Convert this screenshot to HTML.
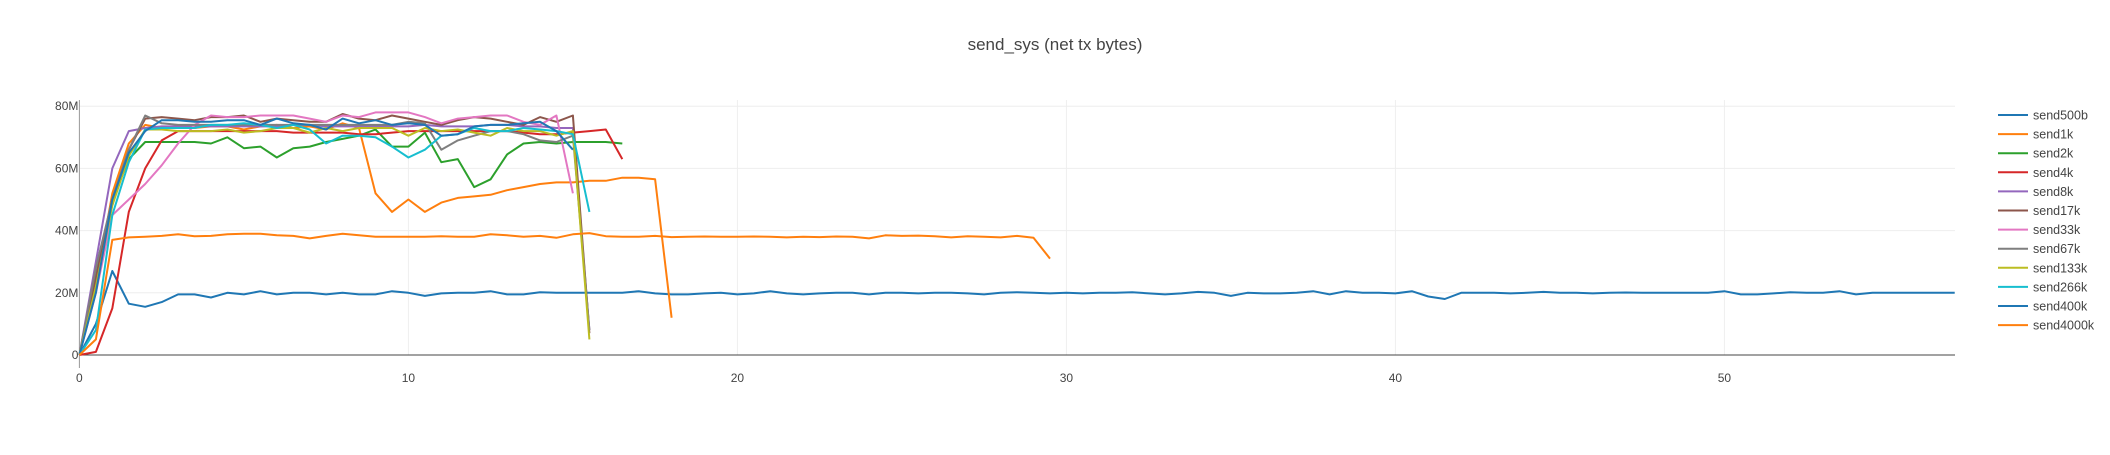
<!DOCTYPE html>
<html><head><meta charset="utf-8"><style>
body{margin:0;background:#fff;font-family:"Liberation Sans",sans-serif}
svg text{font-family:"Liberation Sans",sans-serif;fill:#444}
</style></head><body>
<svg id="chart" width="2110" height="450" xmlns="http://www.w3.org/2000/svg">
<text x="1055" y="50" text-anchor="middle" font-size="17">send_sys (net tx bytes)</text>
<g id="grid"></g><g id="lines"></g><g id="legend"></g>
</svg>
<script>
const seriesNames=["send500b","send1k","send2k","send4k","send8k","send17k","send33k","send67k","send133k","send266k","send400k","send4000k"];
const colors=["#1f77b4","#ff7f0e","#2ca02c","#d62728","#9467bd","#8c564b","#e377c2","#7f7f7f","#bcbd22","#17becf","#1f77b4","#ff7f0e"];
const xStep=0.5;
const yTicks=[0,20,40,60,80];
const yTickLabels=["0","20M","40M","60M","80M"];
const xTicks=[0,10,20,30,40,50];
const s500b=[0,10,27,16.5,15.5,17,19.5,19.5,18.5,20,19.5,20.5,19.5,20,20,19.5,20,19.5,19.5,20.5,20,19,19.8,20,20,20.5,19.5,19.5,20.2,20,20,20,20,20,20.5,19.8,19.5,19.5,19.8,20,19.5,19.8,20.5,19.8,19.5,19.8,20,20,19.5,20,20,19.8,20,20,19.8,19.5,20,20.2,20,19.8,20,19.8,20,20,20.2,19.8,19.5,19.8,20.3,20,19,20,19.8,19.8,20,20.5,19.5,20.5,20,20,19.8,20.5,18.8,18,20,20,20,19.8,20,20.3,20,20,19.8,20,20.1,20,20,20,20,20,20.5,19.5,19.5,19.8,20.2,20,20,20.5,19.5,20,20,20,20,20,20];
const s1k=[0,22,52,68,74,73,73,73,73.5,73.5,72.5,73.5,74,73,73.5,72.5,74.5,73,52,46,50,46,49,50.5,51,51.5,53,54,55,55.5,55.5,56,56,57,57,56.5,12];
const s2k=[0,25,50,63,68.5,68.5,68.5,68.5,68,70,66.5,67,63.5,66.5,67,68.5,69.5,70.5,72.5,67,67,71.5,62,63,54,56.5,64.5,68,68.5,68,68.5,68.5,68.5,68];
const s4k=[0,1,15,46,60,69,72,72,72,72,72,72,72,71.5,71.5,71.5,71.5,71,71,71.5,72,72,72,72,72,72,72,71.5,71,71,71.5,72,72.5,63];
const s8k=[0,30,60,72,73,73.5,73.5,73.5,73.5,73.5,73.5,73.5,73.5,74,74,73.5,73.5,73.5,73.5,73.5,73.5,74,73.5,73.5,73.5,74,74,73.5,73.5,73,73,8];
const s17k=[0,25,50,66,76,76.5,76,75.5,76.5,76.5,77,75,76,75.5,75,75,77.5,76,75.5,77,76,75,74,75.5,76.5,76,75,74,76.5,75,77,7];
const s33k=[0,20,45,50,55,61,68,74,77,76.5,76.5,77,77,77,76,75,77,76.5,78,78,78,76.5,74.5,76,76.5,77,77,75,74,77,52];
const s67k=[0,28,50,66,77,74.5,74,74,74,74,74,74,74,74,74,74,74,74,74,74,75,74.5,66,69,70.5,72,72,71,69,68.5,70.5,8];
const s133k=[0,22,48,64,72.5,72.5,72,72,72,72.5,71.5,72,73,73,71.5,73,72,73,73,73,70.5,73,72,72.5,71.5,70.5,73,72,72,70.5,72,5];
const s266k=[0,8,45,62,72.5,73,73,73,74,74,74.5,74,73,74,72.5,68,70.5,70.5,70,67,63.5,66,70.5,71,73,72,72,73,72.5,72,71,46];
const s400k=[0,20,50,65,72,75.5,75.5,75,75,75.5,75.5,74,76,74.5,74,72.5,76,74.5,75.5,74,74.5,74,70.5,71,73.5,74,74,74.5,75,72,66];
const s4000k=[0,5,37,37.8,38,38.3,38.8,38.2,38.3,38.8,39,39,38.5,38.3,37.5,38.3,39,38.5,38,38,38,38,38.2,38,38,38.8,38.5,38,38.3,37.7,38.8,39.2,38.2,38,38,38.3,37.9,38,38.1,38,38,38.1,38,37.8,38,37.9,38.1,38,37.5,38.5,38.3,38.4,38.2,37.8,38.2,38,37.8,38.3,37.7,31];
const allSeries=[s500b,s1k,s2k,s4k,s8k,s17k,s33k,s67k,s133k,s266k,s400k,s4000k];

const NS="http://www.w3.org/2000/svg";
const X0=79.4,PX=32.9,Y0=355,PY=3.11,XR=1955;
const xs=v=>X0+v*PX, ys=v=>Y0-v*PY;
function mk(tag,attrs,parent){const e=document.createElementNS(NS,tag);for(const k in attrs)e.setAttribute(k,attrs[k]);parent.appendChild(e);return e;}
const grid=document.getElementById('grid');
yTicks.forEach((t,i)=>{
  if(t!==0){const l=mk('line',{x1:X0,x2:XR,y1:ys(t),y2:ys(t),stroke:'#eee','stroke-width':1},grid);
  
  }
  const tx=mk('text',{x:X0-1,y:ys(t)+4,'text-anchor':'end','font-size':12},grid);
  tx.textContent=yTickLabels[i];
  
  
});
xTicks.forEach(t=>{
  if(t!==0){const l=mk('line',{x1:xs(t),x2:xs(t),y1:100,y2:Y0,stroke:'#eee','stroke-width':1},grid);
  
  }
  const tx=mk('text',{x:xs(t),y:382,'text-anchor':'middle','font-size':12},grid);
  tx.textContent=String(t);
  
  
});
const zl=mk('line',{x1:X0,x2:XR,y1:Y0,y2:Y0,stroke:'#444','stroke-width':1},grid);


const ya=mk('line',{x1:X0,x2:X0,y1:100,y2:368,stroke:'#999','stroke-width':1},grid);


const lines=document.getElementById('lines');
allSeries.forEach((arr,si)=>{
  const pts=arr.map((v,i)=>xs(i*xStep).toFixed(1)+','+ys(v).toFixed(1)).join(' ');
  const p=mk('polyline',{points:pts,fill:'none',stroke:colors[si],'stroke-width':2,'stroke-linejoin':'round'},lines);
  
  
});
const lg=document.getElementById('legend');
seriesNames.forEach((n,i)=>{
  const y=115+i*19.1;
  const g=mk('g',{},lg);
  
  
  mk('line',{x1:1998,x2:2028,y1:y,y2:y,stroke:colors[i],'stroke-width':2},g);
  const t=mk('text',{x:2033,y:y+4.5,'font-size':12.5},g);
  t.textContent=n;
});
</script>
</body></html>
